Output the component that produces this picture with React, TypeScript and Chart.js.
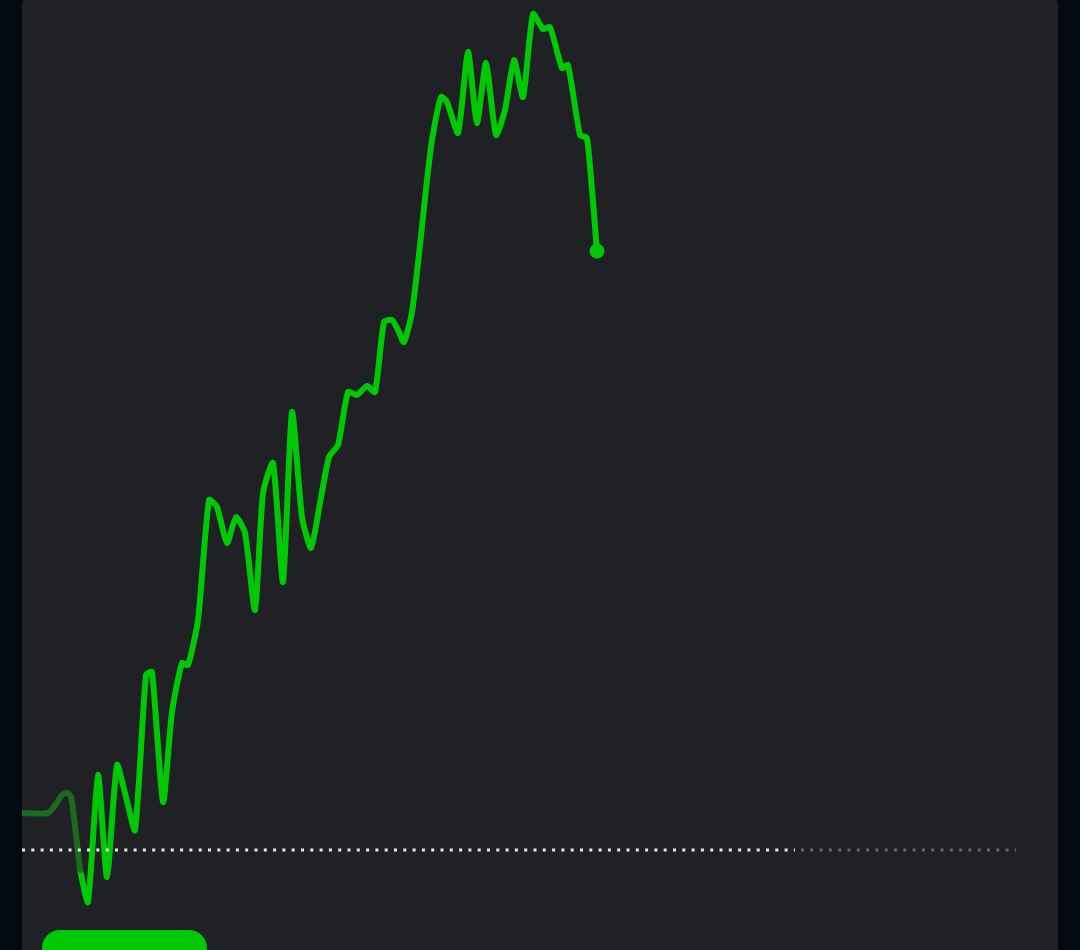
import React, { useEffect, useRef } from "react";
import { Chart, registerables } from "chart.js";

Chart.register(...registerables);

// Minutes since session start (x) and prices (y)
const preTimes = [0, 26, 34, 40, 45, 49, 54, 58];
const prePrices = [10.36, 10.36, 10.45, 10.54, 10.56, 10.52, 10.14, 9.79];

const dayTimes = [
  58, 66, 76, 85, 95, 104, 113, 124, 130, 141, 150, 160, 166, 176, 187, 195, 205, 214, 223, 233,
  241, 251, 261, 270, 280, 289, 298, 307, 316, 326, 335, 345, 353, 362, 370, 376, 382, 390, 398,
  405, 410, 419, 425, 436, 446, 455, 464, 474, 483, 492, 501, 511, 521, 528, 540, 546, 558, 565, 575,
];
const dayPrices = [
  9.79, 9.47, 10.74, 9.72, 10.84, 10.52, 10.19, 11.74, 11.77, 10.47, 11.37, 11.86, 11.84, 12.29,
  13.49, 13.42, 13.06, 13.32, 13.16, 12.39, 13.56, 13.86, 12.67, 14.37, 13.32, 13.01, 13.46, 13.92,
  14.04, 14.57, 14.54, 14.63, 14.57, 15.27, 15.29, 15.19, 15.07, 15.37, 16.04, 16.69, 17.09, 17.52,
  17.47, 17.16, 17.97, 17.26, 17.86, 17.14, 17.39, 17.89, 17.52, 18.35, 18.2, 18.22, 17.81, 17.84,
  17.14, 17.11, 15.98,
];

const previousClose = 9.99;
const sessionEnd = 773;
const extendedStart = 779;
const extendedEnd = 994;
const xMax = 1036;
const yMin = 8.99;
const yMax = 18.49;

export default function App() {
  const ref = useRef<HTMLCanvasElement | null>(null);

  useEffect(() => {
    if (!ref.current) return;
    const pre = preTimes.map((t, i) => ({ x: t, y: prePrices[i] }));
    const day = dayTimes.map((t, i) => ({ x: t, y: dayPrices[i] }));
    const chart = new Chart(ref.current, {
      type: "line",
      data: {
        datasets: [
          {
            data: [
              { x: 0, y: previousClose },
              { x: sessionEnd, y: previousClose },
            ],
            borderColor: "#e8e8e8",
            borderWidth: 3,
            borderDash: [3, 6.3],
            borderCapStyle: "butt",
            pointRadius: 0,
            tension: 0,
          },
          {
            data: [
              { x: extendedStart, y: previousClose },
              { x: extendedEnd, y: previousClose },
            ],
            borderColor: "#65686c",
            borderWidth: 3,
            borderDash: [3, 6.3],
            borderCapStyle: "butt",
            pointRadius: 0,
            tension: 0,
          },
          {
            data: pre,
            borderColor: "#1c6a1c",
            borderWidth: 6,
            borderCapStyle: "round",
            borderJoinStyle: "round",
            pointRadius: 0,
            tension: 0.25,
          },
          {
            data: day,
            borderColor: "#00c805",
            backgroundColor: "#00c805",
            borderWidth: 6,
            borderCapStyle: "round",
            borderJoinStyle: "round",
            pointRadius: day.map((_, i) => (i === day.length - 1 ? 7.5 : 0)),
            pointBorderWidth: 0,
            tension: 0.2,
          },
        ],
      },
      options: {
        animation: false,
        responsive: false,
        devicePixelRatio: 1,
        layout: { padding: 0, autoPadding: false },
        clip: false as any,
        plugins: { legend: { display: false }, tooltip: { enabled: false } },
        scales: {
          x: { type: "linear", min: 0, max: xMax, display: false },
          y: { type: "linear", min: yMin, max: yMax, display: false },
        },
      },
    });
    return () => chart.destroy();
  }, []);

  return (
    <div
      style={{
        position: "fixed",
        left: 0,
        top: 0,
        width: 1080,
        height: 950,
        background: "#030a10",
        overflow: "hidden",
      }}
    >
      <div
        style={{
          position: "absolute",
          left: 22,
          top: -14,
          width: 1036,
          height: 1000,
          borderRadius: 22,
          background: "#1f2124",
        }}
      />
      <canvas
        ref={ref}
        width={1036}
        height={950}
        style={{ position: "absolute", left: 22, top: 0, width: 1036, height: 950 }}
      />
      <div
        style={{
          position: "absolute",
          left: 42,
          top: 930,
          width: 165,
          height: 60,
          borderRadius: 18,
          background: "#00c805",
        }}
      />
    </div>
  );
}
